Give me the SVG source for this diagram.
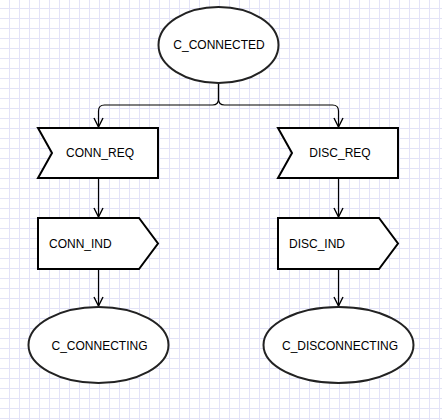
<svg xmlns="http://www.w3.org/2000/svg" width="442" height="420" viewBox="0 0 442 420">
<defs>
<pattern id="grid" x="0" y="0" width="10" height="10" patternUnits="userSpaceOnUse">
<path d="M9.5 0 V10 M0 8.5 H10" stroke="#e3e3f7" stroke-width="1" fill="none"/>
</pattern>
<marker id="arr" markerWidth="12" markerHeight="12" viewBox="0 0 12 12" refX="10" refY="6" orient="auto" markerUnits="userSpaceOnUse">
<path d="M1 1.5 L10 6 L1 10.5" fill="none" stroke="#000" stroke-width="1.4"/>
</marker>
</defs>
<style>
.shape{fill:#fff;stroke:#000;stroke-width:2}
.ell{fill:#fff;stroke:#222;stroke-width:2}
.lbl{font-family:"Liberation Sans",Arial,sans-serif;font-size:12px;fill:#000;dominant-baseline:central}
.mid{text-anchor:middle}
.edge{fill:none;stroke:#000;stroke-width:1.2}
</style>
<rect width="442" height="420" fill="#fff"/>
<rect width="442" height="420" fill="url(#grid)"/>
<g id="connectors">
<path class="edge" d="M218.5 83 L218.5 99 Q218.5 105 212.5 105 L104.5 105 Q98.5 105 98.5 111 L98.5 127" marker-end="url(#arr)"/>
<path class="edge" d="M218.5 83 L218.5 99 Q218.5 105 224.5 105 L332.5 105 Q338.5 105 338.5 111 L338.5 127" marker-end="url(#arr)"/>
<path class="edge" d="M98.5 178 L98.5 217" marker-end="url(#arr)"/>
<path class="edge" d="M338.5 178 L338.5 217" marker-end="url(#arr)"/>
<path class="edge" d="M98.5 269 L98.5 306" marker-end="url(#arr)"/>
<path class="edge" d="M338.5 269 L338.5 306" marker-end="url(#arr)"/>
</g>
<g id="c_connected">
<ellipse class="ell" cx="218.5" cy="45" rx="60" ry="38"/>
<text class="lbl mid" x="219" y="45">C_CONNECTED</text>
</g>
<g id="conn_req">
<polygon class="shape" points="38,128 158,128 158,178 38,178 52,153"/>
<text class="lbl mid" x="100" y="153">CONN_REQ</text>
</g>
<g id="disc_req">
<polygon class="shape" points="278,128 398,128 398,178 278,178 292,153"/>
<text class="lbl mid" x="340" y="153">DISC_REQ</text>
</g>
<g id="conn_ind">
<polygon class="shape" points="38,218 139,218 158,243.5 139,269 38,269"/>
<text class="lbl" x="49" y="243.5">CONN_IND</text>
</g>
<g id="disc_ind">
<polygon class="shape" points="278,218 379,218 398,243.5 379,269 278,269"/>
<text class="lbl" x="289" y="243.5">DISC_IND</text>
</g>
<g id="c_connecting">
<ellipse class="ell" cx="98.5" cy="345" rx="70" ry="38"/>
<text class="lbl mid" x="99.5" y="346">C_CONNECTING</text>
</g>
<g id="c_disconnecting">
<ellipse class="ell" cx="338.5" cy="345" rx="75" ry="38"/>
<text class="lbl mid" x="340" y="346">C_DISCONNECTING</text>
</g>
</svg>
